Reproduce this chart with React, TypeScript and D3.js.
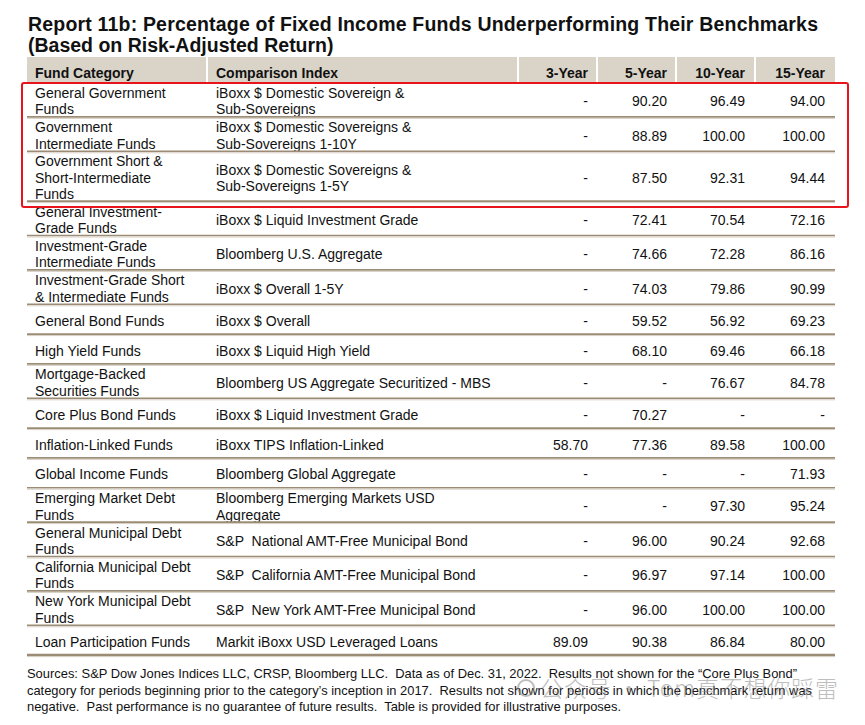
import React from "react";
import * as d3 from "d3";

const titleLines = [
  "Report 11b: Percentage of Fixed Income Funds Underperforming Their Benchmarks",
  "(Based on Risk-Adjusted Return)",
];

const headers = ["Fund Category", "Comparison Index", "3-Year", "5-Year", "10-Year", "15-Year"];
const periods = ["3-Year", "5-Year", "10-Year", "15-Year"];

const categories: string[][] = [
  ["General Government", "Funds"],
  ["Government", "Intermediate Funds"],
  ["Government Short &", "Short-Intermediate", "Funds"],
  ["General Investment-", "Grade Funds"],
  ["Investment-Grade", "Intermediate Funds"],
  ["Investment-Grade Short", "& Intermediate Funds"],
  ["General Bond Funds"],
  ["High Yield Funds"],
  ["Mortgage-Backed", "Securities Funds"],
  ["Core Plus Bond Funds"],
  ["Inflation-Linked Funds"],
  ["Global Income Funds"],
  ["Emerging Market Debt", "Funds"],
  ["General Municipal Debt", "Funds"],
  ["California Municipal Debt", "Funds"],
  ["New York Municipal Debt", "Funds"],
  ["Loan Participation Funds"],
];

const indices: string[][] = [
  ["iBoxx $ Domestic Sovereign &", "Sub-Sovereigns"],
  ["iBoxx $ Domestic Sovereigns &", "Sub-Sovereigns 1-10Y"],
  ["iBoxx $ Domestic Sovereigns &", "Sub-Sovereigns 1-5Y"],
  ["iBoxx $ Liquid Investment Grade"],
  ["Bloomberg U.S. Aggregate"],
  ["iBoxx $ Overall 1-5Y"],
  ["iBoxx $ Overall"],
  ["iBoxx $ Liquid High Yield"],
  ["Bloomberg US Aggregate Securitized - MBS"],
  ["iBoxx $ Liquid Investment Grade"],
  ["iBoxx TIPS Inflation-Linked"],
  ["Bloomberg Global Aggregate"],
  ["Bloomberg Emerging Markets USD", "Aggregate"],
  ["S&P  National AMT-Free Municipal Bond"],
  ["S&P  California AMT-Free Municipal Bond"],
  ["S&P  New York AMT-Free Municipal Bond"],
  ["Markit iBoxx USD Leveraged Loans"],
];

const year3: (number | null)[] = [null, null, null, null, null, null, null, null, null, null, 58.7, null, null, null, null, null, 89.09];
const year5: (number | null)[] = [90.2, 88.89, 87.5, 72.41, 74.66, 74.03, 59.52, 68.1, null, 70.27, 77.36, null, null, 96.0, 96.97, 96.0, 90.38];
const year10: (number | null)[] = [96.49, 100.0, 92.31, 70.54, 72.28, 79.86, 56.92, 69.46, 76.67, null, 89.58, null, 97.3, 90.24, 97.14, 100.0, 86.84];
const year15: (number | null)[] = [94.0, 100.0, 94.44, 72.16, 86.16, 90.99, 69.23, 66.18, 84.78, null, 100.0, 71.93, 95.24, 92.68, 100.0, 100.0, 80.0];

const footnoteLines = [
  "Sources: S&P Dow Jones Indices LLC, CRSP, Bloomberg LLC.  Data as of Dec. 31, 2022.  Results not shown for the \u201cCore Plus Bond\u201d",
  "category for periods beginning prior to the category\u2019s inception in 2017.  Results not shown for periods in which the benchmark return was",
  "negative.  Past performance is no guarantee of future results.  Table is provided for illustrative purposes.",
];

const watermark = "公众号 · Tom真不想你踩雷";

const W = 865;
const H = 725;
const FONT = "'Liberation Sans', Arial, sans-serif";

export default function App() {
  const left = 27;
  const right = 835;
  const headerTop = 57;
  const headerBottom = 83;

  const lineCount = categories.map((c, i) => Math.max(c.length, indices[i].length));
  const heightFor: Record<number, number> = { 1: 29.8, 2: 34.4, 3: 49.8 };
  const heights = lineCount.map((n) => heightFor[n]);
  const cum = Array.from(d3.cumsum(heights));
  const rowTop = (i: number) => headerBottom + (i === 0 ? 0 : cum[i - 1]);

  const numX = d3.scaleOrdinal<string, number>().domain(periods).range([588, 667, 745, 825]);
  const textX = d3.scaleOrdinal<string, number>().domain(["cat", "idx"]).range([35, 216]);
  const headerSeps = [207, 518, 597, 676, 755];
  const cols = [year3, year5, year10, year15];
  const fmt = d3.format(".2f");
  const lh = 16.3;
  const base = 6;

  const multiline = (lines: string[], x: number, cy: number, key: string) =>
    lines.map((t, k) => (
      <text key={key + k} x={x} y={cy + (k - (lines.length - 1) / 2) * lh + base} fontSize={14} fill="#111" style={{ whiteSpace: "pre" }}>
        {t}
      </text>
    ));

  return (
    <svg width={W} height={H} style={{ position: "absolute", left: 0, top: 0, background: "#fff" }} fontFamily={FONT}>
      <rect x={0} y={0} width={W} height={H} fill="#fff" />
      <text x={28} y={31} fontSize={19.5} fontWeight="bold" fill="#111" textLength={790} lengthAdjust="spacing">
        {titleLines[0]}
      </text>
      <text x={28} y={52} fontSize={19.5} fontWeight="bold" fill="#111">
        {titleLines[1]}
      </text>
      <rect x={left} y={headerTop} width={right - left} height={headerBottom - headerTop} fill="#d9d3c8" />
      {headerSeps.map((x, i) => (
        <rect key={"hs" + i} x={x - 1} y={headerTop} width={2} height={headerBottom - headerTop} fill="#fff" />
      ))}
      {headers.map((h, i) => {
        const isNum = i >= 2;
        const x = isNum ? numX(h) : textX(i === 0 ? "cat" : "idx");
        return (
          <text key={"h" + i} x={x} y={78} fontSize={14} fontWeight="bold" textAnchor={isNum ? "end" : "start"} fill="#111">
            {h}
          </text>
        );
      })}
      {categories.map((c, i) => {
        const top = rowTop(i);
        const cy = top + heights[i] / 2;
        const bottom = top + heights[i];
        const last = i === categories.length - 1;
        return (
          <g key={"r" + i}>
            {multiline(c, textX("cat"), cy, "c" + i)}
            {multiline(indices[i], textX("idx"), cy, "i" + i)}
            {periods.map((p, j) => (
              <text key={"v" + j} x={numX(p)} y={cy + base} fontSize={14} textAnchor="end" fill="#111">
                {cols[j][i] == null ? "-" : fmt(cols[j][i] as number)}
              </text>
            ))}
            <line x1={left} x2={right} y1={bottom - 0.5} y2={bottom - 0.5} stroke="#9c8c75" strokeWidth={last ? 2.5 : 1.6} />
            <line x1={left} x2={right} y1={bottom + 1} y2={bottom + 1} stroke="#d6cec2" strokeWidth={1} />
          </g>
        );
      })}
      <rect x={22} y={83} width={826} height={124} rx={2} fill="none" stroke="#e8141c" strokeWidth={2} />
      {footnoteLines.map((t, i) => (
        <text key={"f" + i} x={27} y={678 + i * 16.5} fontSize={13} fill="#111" textLength={[770, 785, 594][i]} lengthAdjust="spacingAndGlyphs" style={{ whiteSpace: "pre" }}>
          {t}
        </text>
      ))}
      <g opacity={0.55} fill="#8a8a8a">
        <circle cx={526} cy={688} r={8} fill="none" stroke="#8a8a8a" strokeWidth={2} />
        <text x={540} y={697} fontSize={23} fontWeight={300} fontFamily="'Noto Sans CJK SC', sans-serif" textLength={298} lengthAdjust="spacing" style={{ whiteSpace: "pre" }}>
          {watermark}
        </text>
      </g>
    </svg>
  );
}
